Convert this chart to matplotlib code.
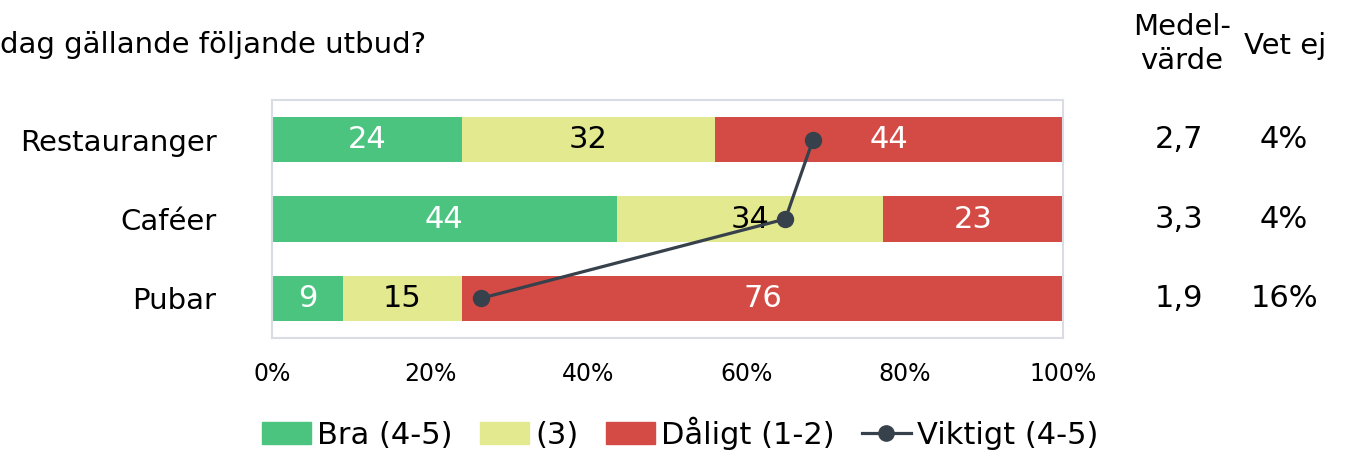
import matplotlib.pyplot as plt
import numpy as np
from matplotlib.patches import Patch
from matplotlib.lines import Line2D

categories = ['Restauranger', 'Caféer', 'Pubar']
bra = [24, 44, 9]
mitt = [32, 34, 15]
daligt = [44, 23, 76]
viktigt = [68.4, 64.9, 26.4]
medelvarde = ['2,7', '3,3', '1,9']
vet_ej = ['4%', '4%', '16%']

green = '#4BC480'
yellow = '#E3E98F'
red = '#D44A45'
dark = '#37414C'

plt.rcParams['font.family'] = ['DejaVu Sans']

fig = plt.figure(figsize=(13.5, 4.55), dpi=100)
ax = fig.add_axes([272 / 1350, 1 - 338 / 455, 791 / 1350, 238 / 455])

vals = np.array([bra, mitt, daligt], dtype=float)
perc = vals / vals.sum(axis=0) * 100
y = np.arange(len(categories))
left = np.zeros(len(categories))
colors = [green, yellow, red]
txtcol = ['white', 'black', 'white']
for k in range(3):
    ax.barh(y, perc[k], left=left, height=0.57, color=colors[k], edgecolor='none')
    for i in range(len(categories)):
        ax.text(left[i] + perc[k][i] / 2, y[i], '%d' % vals[k][i],
                ha='center', va='center', fontsize=22, color=txtcol[k])
    left += perc[k]

ax.plot(viktigt, y, color=dark, lw=2.3, marker='o', ms=11.5, zorder=5)

ax.set_xlim(0, 100)
ax.set_ylim(2.5, -0.5)
ax.set_yticks(y)
ax.set_yticklabels(categories, fontsize=21)
ax.set_xticks(np.arange(0, 101, 20))
ax.set_xticklabels(['%d%%' % v for v in range(0, 101, 20)], fontsize=17)
ax.tick_params(length=0)
ax.tick_params(axis='y', pad=40)
ax.tick_params(axis='x', pad=17)
for s in ax.spines.values():
    s.set_color('#D9DCE2')
    s.set_linewidth(1.5)

# title (cut at left edge)
fig.text(0, 1 - 45 / 455, 'dag gällande följande utbud?', fontsize=21,
         ha='left', va='center')

# right columns
fig.text(1182 / 1350, 1 - 44 / 455, 'Medel-\nvärde', fontsize=21,
         ha='center', va='center', linespacing=1.25)
fig.text(1285 / 1350, 1 - 46 / 455, 'Vet ej', fontsize=21,
         ha='center', va='center')
for i in range(len(categories)):
    yy = [139.5, 219, 298.5][i]
    fig.text(1179 / 1350, 1 - yy / 455, medelvarde[i], fontsize=22,
             ha='center', va='center')
    fig.text(1284 / 1350, 1 - yy / 455, vet_ej[i], fontsize=22,
             ha='center', va='center')

handles = [Patch(color=green), Patch(color=yellow), Patch(color=red),
           Line2D([0], [0], color=dark, lw=2.3, marker='o', ms=11)]
labels = ['Bra (4-5)', '(3)', 'Dåligt (1-2)', 'Viktigt (4-5)']
fig.legend(handles, labels, loc='center', bbox_to_anchor=(680 / 1350, 1 - 433 / 455),
           ncol=4, frameon=False, fontsize=22, handlelength=1.6,
           handletextpad=0.2, columnspacing=0.9)

fig.savefig('out.png', dpi=100)
